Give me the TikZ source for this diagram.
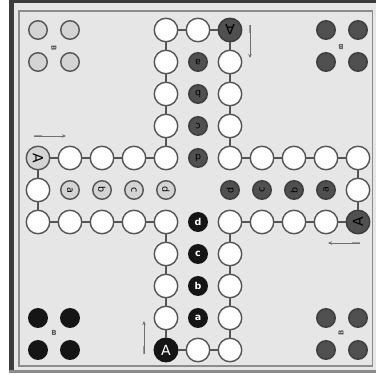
\documentclass[tikz,border=0pt]{standalone}
\usepackage{fontspec}
\setmainfont{DejaVu Sans}
\usetikzlibrary{arrows.meta,calc}
\definecolor{boardbg}{HTML}{E6E6E6}
\definecolor{framedark}{HTML}{3C3C3C}
\definecolor{frameline}{HTML}{8C8C8C}
\definecolor{edgec}{HTML}{555555}
\definecolor{lightp}{HTML}{D4D4D4}
\definecolor{darkp}{HTML}{505050}
\definecolor{blackp}{HTML}{151515}
\definecolor{arrowc}{HTML}{707070}
\begin{document}
\begin{tikzpicture}[x=1pt,y=-1pt,
  field/.style={circle,draw=edgec,line width=1.4pt,fill=white,minimum size=23.5pt,inner sep=0pt,
    font=\fontsize{14}{14}\selectfont},
  startL/.style={field,fill=lightp,text=black,rotate=-90},
  startT/.style={field,fill=darkp,draw=framedark,text=black,rotate=180},
  startR/.style={field,fill=darkp,draw=framedark,text=black,rotate=90},
  startB/.style={field,fill=blackp,draw=blackp,text=white},
  slot/.style={circle,line width=1.4pt,minimum size=18.5pt,inner sep=0pt,
    font=\fontsize{9.5}{10}\selectfont},
  homeL/.style={slot,draw=edgec,fill=lightp,text=black},
  homeD/.style={slot,draw=framedark,fill=darkp,text=black},
  homeB/.style={slot,draw=blackp,fill=blackp,text=white,font=\fontsize{9.5}{10}\bfseries\selectfont},
  link/.style={draw=edgec,line width=1.4pt},
  blabel/.style={text=edgec,font=\fontsize{7}{8}\bfseries\selectfont,inner sep=0pt},
  dirarrow/.style={draw=arrowc,line width=0.8pt,-{Stealth[length=4pt,width=3.5pt]}},
  dirtail/.style={draw=arrowc!70,line width=2.6pt}
]
\useasboundingbox (0,0) rectangle (376,374);
% board frame
\fill[white] (0,0) rectangle (376,374);
\fill[boardbg] (9,0) rectangle (376,373);
\fill[framedark] (9,0) rectangle (14.5,373);
\fill[framedark] (9,0) rectangle (376,3.5);
\fill[frameline] (9,370.5) rectangle (376,373);
\draw[frameline,line width=1.6pt] (19,11) rectangle (372.5,366);

% track
\foreach \i/\j/\s/\t [count=\k from 0] in {
  4/10/startB/A, 4/9/field/, 4/8/field/, 4/7/field/, 4/6/field/,
  3/6/field/, 2/6/field/, 1/6/field/, 0/6/field/, 0/5/field/,
  0/4/startL/A, 1/4/field/, 2/4/field/, 3/4/field/, 4/4/field/,
  4/3/field/, 4/2/field/, 4/1/field/, 4/0/field/, 5/0/field/,
  6/0/startT/A, 6/1/field/, 6/2/field/, 6/3/field/, 6/4/field/,
  7/4/field/, 8/4/field/, 9/4/field/, 10/4/field/, 10/5/field/,
  10/6/startR/A, 9/6/field/, 8/6/field/, 7/6/field/, 6/6/field/,
  6/7/field/, 6/8/field/, 6/9/field/, 6/10/field/, 5/10/field/}
  \node[\s] (t\k) at ({38+32*\i},{30+32*\j}) {\t};
\foreach \k in {0,...,39}{
  \pgfmathtruncatemacro{\n}{mod(\k+1,40)}
  \draw[link] (t\k) -- (t\n);
}

% home stretches
\foreach \i/\t in {1/a,2/b,3/c,4/d}
  \node[homeL,rotate=-90] (hl\t) at ({38+32*\i},190) {\t};
\foreach \j/\t in {1/a,2/b,3/c,4/d}
  \node[homeD,rotate=180] (ht\t) at (198,{30+32*\j}) {\t};
\foreach \i/\t in {9/a,8/b,7/c,6/d}
  \node[homeD,rotate=90] (hr\t) at ({38+32*\i},190) {\t};
\foreach \j/\t in {9/a,8/b,7/c,6/d}
  \node[homeB] (hb\t) at (198,{30+32*\j}) {\t};

% start yards
\foreach \i/\j [count=\k] in {0/0,1/0,0/1,1/1}
  \node[slot,draw=edgec,fill=lightp] (yl\k) at ({38+32*\i},{30+32*\j}) {};
\foreach \i/\j [count=\k] in {9/0,10/0,9/1,10/1}
  \node[slot,draw=framedark,fill=darkp] (yt\k) at ({38+32*\i},{30+32*\j}) {};
\foreach \i/\j [count=\k] in {0/9,1/9,0/10,1/10}
  \node[slot,draw=blackp,fill=blackp] (yb\k) at ({38+32*\i},{30+32*\j}) {};
\foreach \i/\j [count=\k] in {9/9,10/9,9/10,10/10}
  \node[slot,draw=framedark,fill=darkp] (yr\k) at ({38+32*\i},{30+32*\j}) {};

\node[blabel,rotate=-90] (bl1) at (54,48) {B};
\node[blabel,rotate=180] (bl2) at (341,47) {B};
\node[blabel] (bl3) at (54,333) {B};
\node[blabel,rotate=90] (bl4) at (341,333) {B};

% direction arrows
\coordinate (aLt) at (34,136); \coordinate (aLh) at (66,136);
\coordinate (aTt) at (250,25); \coordinate (aTh) at (250,58);
\coordinate (aRt) at (360,243); \coordinate (aRh) at (328,243);
\coordinate (aBt) at (144,354); \coordinate (aBh) at (144,321);
\draw[dirtail] (aLt) -- ($(aLt)!0.25!(aLh)$);
\draw[dirtail] (aTt) -- ($(aTt)!0.25!(aTh)$);
\draw[dirtail] (aRt) -- ($(aRt)!0.25!(aRh)$);
\draw[dirtail] (aBt) -- ($(aBt)!0.25!(aBh)$);
\draw[dirarrow] (aLt) -- (aLh);
\draw[dirarrow] (aTt) -- (aTh);
\draw[dirarrow] (aRt) -- (aRh);
\draw[dirarrow] (aBt) -- (aBh);
\end{tikzpicture}
\end{document}
